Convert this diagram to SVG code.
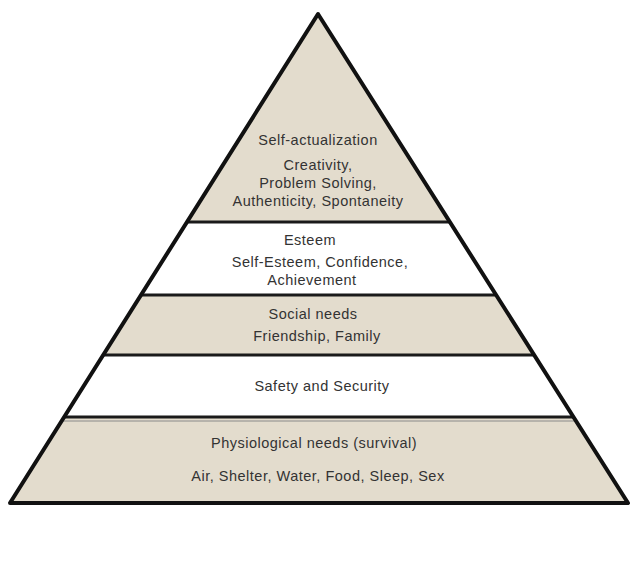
<svg xmlns="http://www.w3.org/2000/svg" width="639" height="578" viewBox="0 0 639 578">
  <style>
    .beige { fill: #e3dccd; }
    .white { fill: #ffffff; }
    .div { stroke: #1a1a1a; stroke-width: 3; fill: none; }
    .outline { stroke: #111111; stroke-width: 4; fill: none; stroke-linejoin: round; }
    text { font-family: "Liberation Sans", Arial, sans-serif; font-size: 14.5px; letter-spacing: 0.5px; fill: #333333; text-anchor: middle; }
  </style>
  <rect width="639" height="578" fill="#ffffff"/>
  <g id="self-actualization">
    <polygon class="beige" points="318,14 187,222 450,222"/>
    <text x="318" y="145">Self-actualization</text>
    <text x="318" y="170">Creativity,</text>
    <text x="318" y="188">Problem Solving,</text>
    <text x="318" y="206">Authenticity, Spontaneity</text>
  </g>
  <g id="esteem">
    <polygon class="white" points="187,222 450,222 496,295 141,295"/>
    <text x="310" y="245">Esteem</text>
    <text x="320" y="267">Self-Esteem, Confidence,</text>
    <text x="312" y="285">Achievement</text>
  </g>
  <g id="social">
    <polygon class="beige" points="141,295 496,295 534,355 103,355"/>
    <text x="313" y="319">Social needs</text>
    <text x="317" y="341">Friendship, Family</text>
  </g>
  <g id="safety">
    <polygon class="white" points="103,355 534,355 573.5,417 64,417"/>
    <text x="322" y="391">Safety and Security</text>
  </g>
  <g id="physiological">
    <polygon class="beige" points="64,417 573.5,417 628,503 10,503"/>
    <text x="314" y="448">Physiological needs (survival)</text>
    <text x="318" y="481">Air, Shelter, Water, Food, Sleep, Sex</text>
  </g>
  <g id="connectors">
    <line class="div" x1="187" y1="222" x2="450" y2="222"/>
    <line class="div" x1="141" y1="295" x2="496" y2="295"/>
    <line class="div" x1="103" y1="355" x2="534" y2="355"/>
    <line class="div" x1="64" y1="417" x2="573.5" y2="417"/>
    <line x1="63" y1="421" x2="575" y2="421" stroke="#8a8a8a" stroke-width="1"/>
    <polygon class="outline" points="318,14 628,503 10,503"/>
  </g>
</svg>
